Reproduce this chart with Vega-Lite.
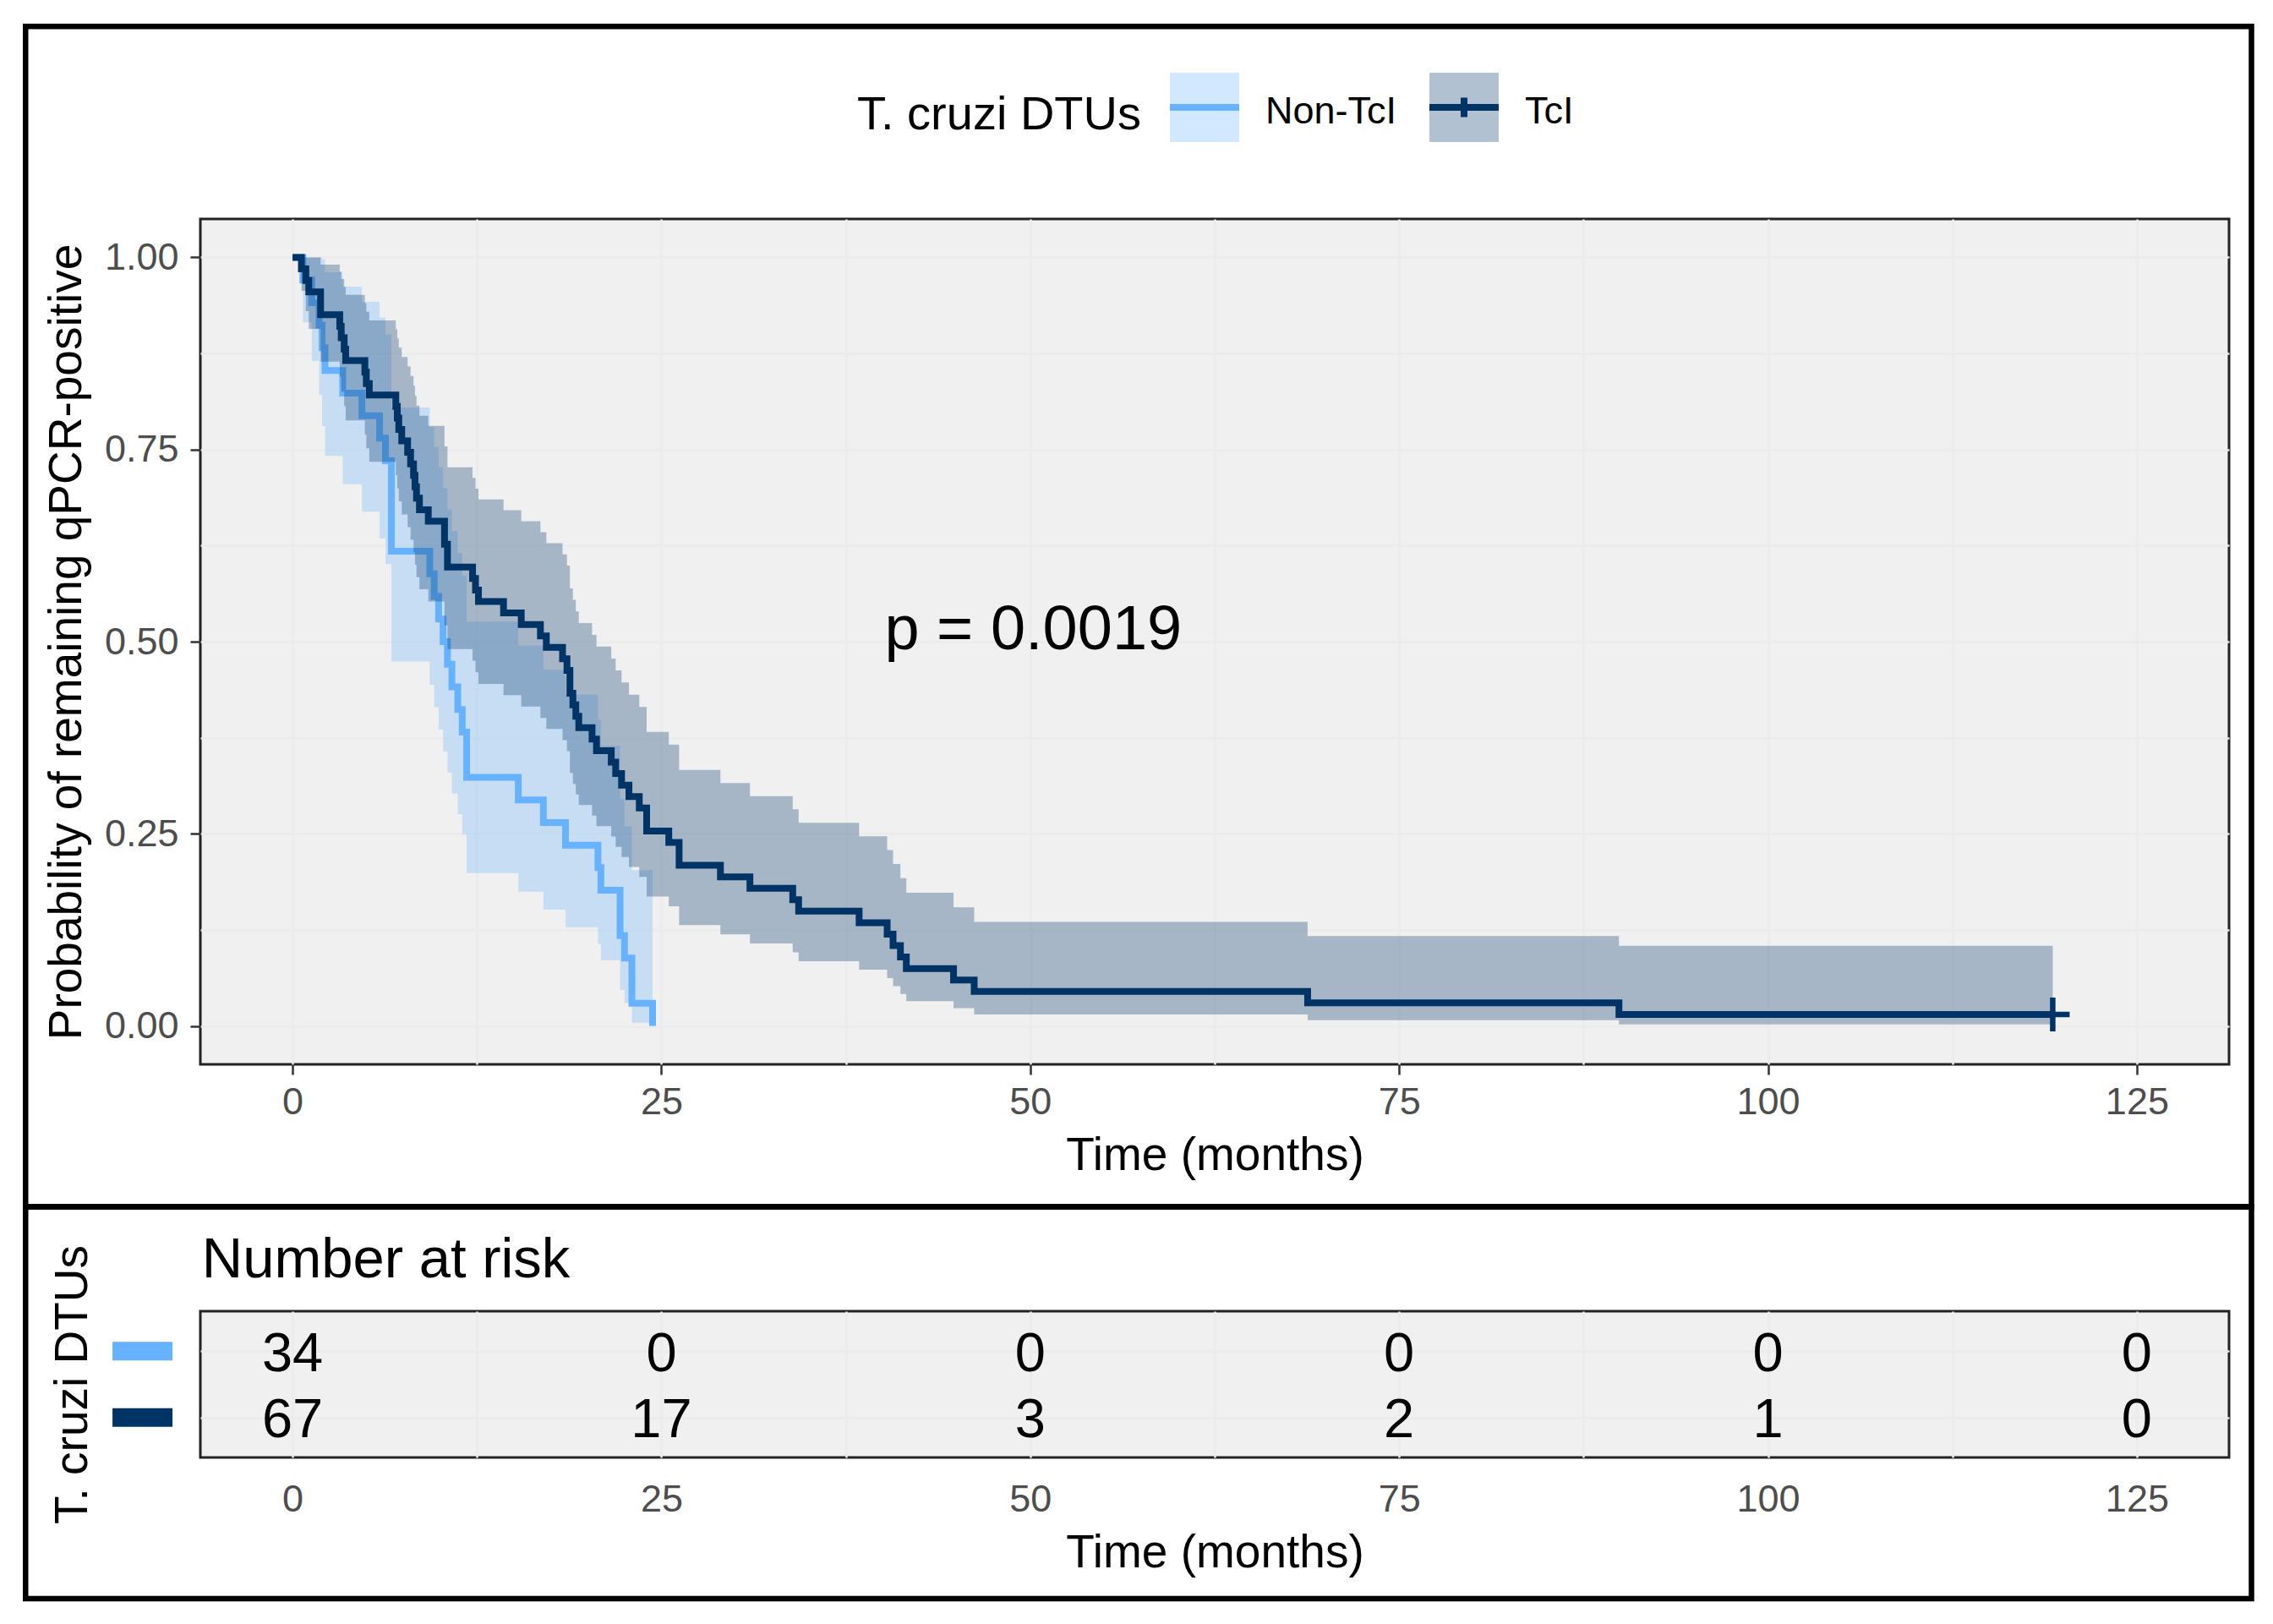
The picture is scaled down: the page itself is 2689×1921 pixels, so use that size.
{
  "$schema": "https://vega.github.io/schema/vega-lite/v6.json",
  "padding": {"left": 25, "top": 26, "right": 20, "bottom": 20},
  "background": "white",
  "spacing": -11,
  "resolve": {"scale": {"color": "independent"}},
  "config": {
    "font": "Liberation Sans",
    "view": {"fill": "#F0F0F0", "stroke": "#222222", "strokeWidth": 3},
    "axis": {
      "domain": false,
      "gridColor": "#EBEBEB",
      "gridWidth": 2.5,
      "gridOpacity": 1,
      "tickColor": "#333333",
      "tickWidth": 2.5,
      "tickSize": 12,
      "labelColor": "#4D4D4D",
      "labelFontSize": 45,
      "labelFont": "Liberation Sans",
      "titleColor": "#000000",
      "titleFontSize": 55,
      "titleFontWeight": "normal",
      "titleFont": "Liberation Sans",
      "labelOverlap": false,
      "labelFlush": false
    },
    "legend": {"labelFont": "Liberation Sans", "titleFont": "Liberation Sans"}
  },
  "datasets": {
    "km": [
      {"group":"Non-TcI","time":0,"surv":1,"lower":1,"upper":1},
      {"group":"Non-TcI","time":0.7,"surv":0.9706,"lower":0.9154,"upper":1},
      {"group":"Non-TcI","time":1.3,"surv":0.9412,"lower":0.8653,"upper":1},
      {"group":"Non-TcI","time":1.8,"surv":0.9118,"lower":0.8213,"upper":1},
      {"group":"Non-TcI","time":2.0,"surv":0.8824,"lower":0.7805,"upper":0.9976},
      {"group":"Non-TcI","time":2.2,"surv":0.8529,"lower":0.7418,"upper":0.9807},
      {"group":"Non-TcI","time":3.4,"surv":0.8235,"lower":0.7049,"upper":0.9621},
      {"group":"Non-TcI","time":4.7,"surv":0.7941,"lower":0.6692,"upper":0.9423},
      {"group":"Non-TcI","time":5.9,"surv":0.7647,"lower":0.6346,"upper":0.9215},
      {"group":"Non-TcI","time":6.3,"surv":0.7353,"lower":0.601,"upper":0.8996},
      {"group":"Non-TcI","time":6.7,"surv":0.6176,"lower":0.4741,"upper":0.8046},
      {"group":"Non-TcI","time":9.3,"surv":0.5882,"lower":0.444,"upper":0.7792},
      {"group":"Non-TcI","time":9.6,"surv":0.5588,"lower":0.4145,"upper":0.7533},
      {"group":"Non-TcI","time":9.9,"surv":0.5294,"lower":0.3856,"upper":0.7268},
      {"group":"Non-TcI","time":10.2,"surv":0.5,"lower":0.3573,"upper":0.6998},
      {"group":"Non-TcI","time":10.5,"surv":0.4706,"lower":0.3295,"upper":0.6721},
      {"group":"Non-TcI","time":10.8,"surv":0.4412,"lower":0.3022,"upper":0.6441},
      {"group":"Non-TcI","time":11.2,"surv":0.4118,"lower":0.2756,"upper":0.6154},
      {"group":"Non-TcI","time":11.5,"surv":0.3824,"lower":0.2494,"upper":0.5862},
      {"group":"Non-TcI","time":11.8,"surv":0.3235,"lower":0.199,"upper":0.526},
      {"group":"Non-TcI","time":15.3,"surv":0.2941,"lower":0.1747,"upper":0.4951},
      {"group":"Non-TcI","time":17.0,"surv":0.2647,"lower":0.1512,"upper":0.4635},
      {"group":"Non-TcI","time":18.5,"surv":0.2353,"lower":0.1284,"upper":0.4313},
      {"group":"Non-TcI","time":20.7,"surv":0.2059,"lower":0.1064,"upper":0.3984},
      {"group":"Non-TcI","time":20.9,"surv":0.1765,"lower":0.0854,"upper":0.3648},
      {"group":"Non-TcI","time":22.2,"surv":0.1176,"lower":0.0468,"upper":0.2953},
      {"group":"Non-TcI","time":22.5,"surv":0.0882,"lower":0.0299,"upper":0.2599},
      {"group":"Non-TcI","time":23.0,"surv":0.0294,"lower":0.0043,"upper":0.2028},
      {"group":"Non-TcI","time":24.4,"surv":0,"lower":0.0043,"upper":0.2028},
      {"group":"TcI","time":0,"surv":1,"lower":1,"upper":1},
      {"group":"TcI","time":0.6,"surv":0.9851,"lower":0.9564,"upper":1},
      {"group":"TcI","time":0.9,"surv":0.9701,"lower":0.9302,"upper":1},
      {"group":"TcI","time":1.1,"surv":0.9552,"lower":0.907,"upper":1},
      {"group":"TcI","time":1.9,"surv":0.9254,"lower":0.8645,"upper":0.9905},
      {"group":"TcI","time":3.2,"surv":0.9104,"lower":0.8446,"upper":0.9815},
      {"group":"TcI","time":3.3,"surv":0.8955,"lower":0.8252,"upper":0.9719},
      {"group":"TcI","time":3.5,"surv":0.8806,"lower":0.8063,"upper":0.9618},
      {"group":"TcI","time":3.6,"surv":0.8657,"lower":0.7878,"upper":0.9513},
      {"group":"TcI","time":4.9,"surv":0.8507,"lower":0.7696,"upper":0.9405},
      {"group":"TcI","time":5.0,"surv":0.8358,"lower":0.7517,"upper":0.9294},
      {"group":"TcI","time":5.2,"surv":0.8209,"lower":0.734,"upper":0.9181},
      {"group":"TcI","time":7.0,"surv":0.806,"lower":0.7166,"upper":0.9065},
      {"group":"TcI","time":7.1,"surv":0.791,"lower":0.6994,"upper":0.8947},
      {"group":"TcI","time":7.2,"surv":0.7761,"lower":0.6825,"upper":0.8826},
      {"group":"TcI","time":7.4,"surv":0.7612,"lower":0.6656,"upper":0.8705},
      {"group":"TcI","time":7.8,"surv":0.7463,"lower":0.649,"upper":0.8581},
      {"group":"TcI","time":8.0,"surv":0.7313,"lower":0.6325,"upper":0.8456},
      {"group":"TcI","time":8.2,"surv":0.7164,"lower":0.6162,"upper":0.8329},
      {"group":"TcI","time":8.3,"surv":0.7015,"lower":0.6,"upper":0.8201},
      {"group":"TcI","time":8.4,"surv":0.6866,"lower":0.584,"upper":0.8072},
      {"group":"TcI","time":8.6,"surv":0.6716,"lower":0.5681,"upper":0.7941},
      {"group":"TcI","time":9.2,"surv":0.6567,"lower":0.5523,"upper":0.7809},
      {"group":"TcI","time":10.3,"surv":0.6269,"lower":0.5211,"upper":0.7541},
      {"group":"TcI","time":10.5,"surv":0.597,"lower":0.4904,"upper":0.7268},
      {"group":"TcI","time":12.2,"surv":0.5821,"lower":0.4752,"upper":0.713},
      {"group":"TcI","time":12.4,"surv":0.5672,"lower":0.4601,"upper":0.6991},
      {"group":"TcI","time":12.6,"surv":0.5522,"lower":0.4451,"upper":0.6851},
      {"group":"TcI","time":14.3,"surv":0.5373,"lower":0.4303,"upper":0.671},
      {"group":"TcI","time":15.5,"surv":0.5224,"lower":0.4155,"upper":0.6568},
      {"group":"TcI","time":16.8,"surv":0.5075,"lower":0.4008,"upper":0.6425},
      {"group":"TcI","time":17.2,"surv":0.4925,"lower":0.3863,"upper":0.6281},
      {"group":"TcI","time":18.3,"surv":0.4776,"lower":0.3718,"upper":0.6135},
      {"group":"TcI","time":18.6,"surv":0.4627,"lower":0.3575,"upper":0.5989},
      {"group":"TcI","time":18.8,"surv":0.4328,"lower":0.3291,"upper":0.5694},
      {"group":"TcI","time":19.0,"surv":0.4179,"lower":0.315,"upper":0.5544},
      {"group":"TcI","time":19.2,"surv":0.403,"lower":0.3011,"upper":0.5394},
      {"group":"TcI","time":19.4,"surv":0.3881,"lower":0.2873,"upper":0.5242},
      {"group":"TcI","time":20.3,"surv":0.3731,"lower":0.2736,"upper":0.5089},
      {"group":"TcI","time":20.6,"surv":0.3582,"lower":0.26,"upper":0.4936},
      {"group":"TcI","time":21.6,"surv":0.3433,"lower":0.2465,"upper":0.4781},
      {"group":"TcI","time":21.9,"surv":0.3284,"lower":0.2331,"upper":0.4625},
      {"group":"TcI","time":22.3,"surv":0.3134,"lower":0.2199,"upper":0.4468},
      {"group":"TcI","time":22.8,"surv":0.2985,"lower":0.2068,"upper":0.4309},
      {"group":"TcI","time":23.5,"surv":0.2836,"lower":0.1938,"upper":0.4149},
      {"group":"TcI","time":24.0,"surv":0.2537,"lower":0.1683,"upper":0.3826},
      {"group":"TcI","time":25.5,"surv":0.2388,"lower":0.1557,"upper":0.3662},
      {"group":"TcI","time":26.2,"surv":0.209,"lower":0.1311,"upper":0.333},
      {"group":"TcI","time":29.0,"surv":0.194,"lower":0.1191,"upper":0.3161},
      {"group":"TcI","time":31.0,"surv":0.1791,"lower":0.1073,"upper":0.2991},
      {"group":"TcI","time":33.9,"surv":0.1642,"lower":0.0957,"upper":0.2818},
      {"group":"TcI","time":34.3,"surv":0.1493,"lower":0.0843,"upper":0.2644},
      {"group":"TcI","time":38.4,"surv":0.1343,"lower":0.0731,"upper":0.2467},
      {"group":"TcI","time":40.3,"surv":0.1194,"lower":0.0623,"upper":0.2288},
      {"group":"TcI","time":40.7,"surv":0.1045,"lower":0.0518,"upper":0.2106},
      {"group":"TcI","time":41.2,"surv":0.0896,"lower":0.0417,"upper":0.1922},
      {"group":"TcI","time":41.6,"surv":0.0746,"lower":0.0321,"upper":0.1734},
      {"group":"TcI","time":44.8,"surv":0.0597,"lower":0.0231,"upper":0.1544},
      {"group":"TcI","time":46.2,"surv":0.0448,"lower":0.0148,"upper":0.1353},
      {"group":"TcI","time":68.8,"surv":0.0299,"lower":0.0076,"upper":0.1169},
      {"group":"TcI","time":89.9,"surv":0.0149,"lower":0.0021,"upper":0.1044},
      {"group":"TcI","time":119.3,"surv":0.0149,"lower":0.0021,"upper":0.1044}
    ],
    "censor": [
      {"group":"TcI","time":119.3,"surv":0.0149}
    ],
    "risk": [
      {"group":"Non-TcI","time":0,"n":34},
      {"group":"Non-TcI","time":25,"n":0},
      {"group":"Non-TcI","time":50,"n":0},
      {"group":"Non-TcI","time":75,"n":0},
      {"group":"Non-TcI","time":100,"n":0},
      {"group":"Non-TcI","time":125,"n":0},
      {"group":"TcI","time":0,"n":67},
      {"group":"TcI","time":25,"n":17},
      {"group":"TcI","time":50,"n":3},
      {"group":"TcI","time":75,"n":2},
      {"group":"TcI","time":100,"n":1},
      {"group":"TcI","time":125,"n":0}
    ]
  },
  "vconcat": [
    {
      "width": 2400,
      "height": 1000,
      "layer": [
        {
          "data": {"values": [{}]},
          "mark": {"type": "rect", "fillOpacity": 0, "stroke": "#000000", "strokeWidth": 6.5},
          "encoding": {
            "x": {"datum": -18.095, "type": "quantitative", "scale": {"domain": [-6.25, 131.25], "nice": false, "zero": false},
              "axis": {"title": "Time (months)", "values": [0, 12.5, 25, 37.5, 50, 62.5, 75, 87.5, 100, 112.5, 125], "labelExpr": "datum.value % 25 === 0 ? datum.label : ''", "tickOpacity": {"condition": {"test": "datum.value % 25 !== 0", "value": 0}, "value": 1}, "grid": true, "labelPadding": 10, "titlePadding": 14}},
            "x2": {"datum": 132.77},
            "y": {"datum": 1.3005, "type": "quantitative", "scale": {"domain": [-0.05, 1.05], "nice": false, "zero": false},
              "axis": {"title": "Probability of remaining qPCR-positive", "values": [0, 0.125, 0.25, 0.375, 0.5, 0.625, 0.75, 0.875, 1], "labelExpr": "(datum.value * 4) % 1 === 0 ? format(datum.value, '.2f') : ''", "tickOpacity": {"condition": {"test": "(datum.value * 4) % 1 !== 0", "value": 0}, "value": 1}, "grid": true, "labelPadding": 14, "titlePadding": 16}},
            "y2": {"datum": -0.23535}
          }
        },
        {
          "data": {"name": "km"},
          "transform": [{"filter": "datum.group === 'Non-TcI'"}],
          "mark": {"type": "area", "interpolate": "step-after", "fillOpacity": 0.3},
          "encoding": {
            "x": {"field": "time", "type": "quantitative", "scale": {"domain": [-6.25, 131.25], "nice": false, "zero": false},
              "axis": {"title": "Time (months)", "values": [0, 12.5, 25, 37.5, 50, 62.5, 75, 87.5, 100, 112.5, 125], "labelExpr": "datum.value % 25 === 0 ? datum.label : ''", "tickOpacity": {"condition": {"test": "datum.value % 25 !== 0", "value": 0}, "value": 1}, "grid": true, "labelPadding": 10, "titlePadding": 14}},
            "y": {"field": "lower", "type": "quantitative", "scale": {"domain": [-0.05, 1.05], "nice": false, "zero": false},
              "axis": {"title": "Probability of remaining qPCR-positive", "values": [0, 0.125, 0.25, 0.375, 0.5, 0.625, 0.75, 0.875, 1], "labelExpr": "(datum.value * 4) % 1 === 0 ? format(datum.value, '.2f') : ''", "tickOpacity": {"condition": {"test": "(datum.value * 4) % 1 !== 0", "value": 0}, "value": 1}, "grid": true, "labelPadding": 14, "titlePadding": 16}},
            "y2": {"field": "upper"},
            "color": {
              "field": "group", "type": "nominal",
              "scale": {"domain": ["Non-TcI", "TcI"], "range": ["#66B2FF", "#003366"]},
              "legend": {
                "title": "T. cruzi DTUs",
                "orient": "none",
                "legendX": 777,
                "legendY": -177,
                "direction": "horizontal",
                "titleOrient": "left",
                "titleFontSize": 56,
                "titleFontWeight": "normal",
                "titleColor": "#000000",
                "titleBaseline": "middle",
                "titleAnchor": "middle",
                "titleLimit": 800,
                "titlePadding": 30,
                "labelFontSize": 45,
                "labelColor": "#000000",
                "labelLimit": 500,
                "labelOffset": 27,
                "columnPadding": 22,
                "symbolSize": 6724,
                "symbolStrokeWidth": 8,
                "encode": {
                  "symbols": {
                    "update": {
                      "shape": {"signal": "datum.value === 'TcI' ? 'M-1,0H1V1H-1V-1H1V0ZM0,-0.28V0.28' : 'M-1,0H1V1H-1V-1H1V0Z'"},
                      "fill": {"signal": "datum.value === 'TcI' ? '#003366' : '#66B2FF'"},
                      "fillOpacity": {"value": 0.3},
                      "stroke": {"signal": "datum.value === 'TcI' ? '#003366' : '#66B2FF'"},
                      "strokeWidth": {"value": 8},
                      "strokeDash": {"value": [82, 410]},
                      "opacity": {"value": 1}
                    }
                  },
                  "labels": {"update": {"dy": {"value": 5}}},
                  "title": {"update": {"dy": {"value": 3}}}
                }
              }
            }
          }
        },
        {
          "data": {"name": "km"},
          "transform": [{"filter": "datum.group === 'Non-TcI'"}],
          "mark": {"type": "line", "interpolate": "step-after", "strokeWidth": 8},
          "encoding": {
            "x": {"field": "time", "type": "quantitative", "scale": {"domain": [-6.25, 131.25], "nice": false, "zero": false},
              "axis": {"title": "Time (months)", "values": [0, 12.5, 25, 37.5, 50, 62.5, 75, 87.5, 100, 112.5, 125], "labelExpr": "datum.value % 25 === 0 ? datum.label : ''", "tickOpacity": {"condition": {"test": "datum.value % 25 !== 0", "value": 0}, "value": 1}, "grid": true, "labelPadding": 10, "titlePadding": 14}},
            "y": {"field": "surv", "type": "quantitative", "scale": {"domain": [-0.05, 1.05], "nice": false, "zero": false},
              "axis": {"title": "Probability of remaining qPCR-positive", "values": [0, 0.125, 0.25, 0.375, 0.5, 0.625, 0.75, 0.875, 1], "labelExpr": "(datum.value * 4) % 1 === 0 ? format(datum.value, '.2f') : ''", "tickOpacity": {"condition": {"test": "(datum.value * 4) % 1 !== 0", "value": 0}, "value": 1}, "grid": true, "labelPadding": 14, "titlePadding": 16}},
            "color": {"field": "group", "type": "nominal", "scale": {"domain": ["Non-TcI", "TcI"], "range": ["#66B2FF", "#003366"]}, "legend": null}
          }
        },
        {
          "data": {"name": "km"},
          "transform": [{"filter": "datum.group === 'TcI'"}],
          "mark": {"type": "area", "interpolate": "step-after", "fillOpacity": 0.3},
          "encoding": {
            "x": {"field": "time", "type": "quantitative", "scale": {"domain": [-6.25, 131.25], "nice": false, "zero": false},
              "axis": {"title": "Time (months)", "values": [0, 12.5, 25, 37.5, 50, 62.5, 75, 87.5, 100, 112.5, 125], "labelExpr": "datum.value % 25 === 0 ? datum.label : ''", "tickOpacity": {"condition": {"test": "datum.value % 25 !== 0", "value": 0}, "value": 1}, "grid": true, "labelPadding": 10, "titlePadding": 14}},
            "y": {"field": "lower", "type": "quantitative", "scale": {"domain": [-0.05, 1.05], "nice": false, "zero": false},
              "axis": {"title": "Probability of remaining qPCR-positive", "values": [0, 0.125, 0.25, 0.375, 0.5, 0.625, 0.75, 0.875, 1], "labelExpr": "(datum.value * 4) % 1 === 0 ? format(datum.value, '.2f') : ''", "tickOpacity": {"condition": {"test": "(datum.value * 4) % 1 !== 0", "value": 0}, "value": 1}, "grid": true, "labelPadding": 14, "titlePadding": 16}},
            "y2": {"field": "upper"},
            "color": {"field": "group", "type": "nominal", "scale": {"domain": ["Non-TcI", "TcI"], "range": ["#66B2FF", "#003366"]}, "legend": null}
          }
        },
        {
          "data": {"name": "km"},
          "transform": [{"filter": "datum.group === 'TcI'"}],
          "mark": {"type": "line", "interpolate": "step-after", "strokeWidth": 8},
          "encoding": {
            "x": {"field": "time", "type": "quantitative", "scale": {"domain": [-6.25, 131.25], "nice": false, "zero": false},
              "axis": {"title": "Time (months)", "values": [0, 12.5, 25, 37.5, 50, 62.5, 75, 87.5, 100, 112.5, 125], "labelExpr": "datum.value % 25 === 0 ? datum.label : ''", "tickOpacity": {"condition": {"test": "datum.value % 25 !== 0", "value": 0}, "value": 1}, "grid": true, "labelPadding": 10, "titlePadding": 14}},
            "y": {"field": "surv", "type": "quantitative", "scale": {"domain": [-0.05, 1.05], "nice": false, "zero": false},
              "axis": {"title": "Probability of remaining qPCR-positive", "values": [0, 0.125, 0.25, 0.375, 0.5, 0.625, 0.75, 0.875, 1], "labelExpr": "(datum.value * 4) % 1 === 0 ? format(datum.value, '.2f') : ''", "tickOpacity": {"condition": {"test": "(datum.value * 4) % 1 !== 0", "value": 0}, "value": 1}, "grid": true, "labelPadding": 14, "titlePadding": 16}},
            "color": {"field": "group", "type": "nominal", "scale": {"domain": ["Non-TcI", "TcI"], "range": ["#66B2FF", "#003366"]}, "legend": null}
          }
        },
        {
          "data": {"name": "censor"},
          "mark": {"type": "point", "shape": "M-1,0H1M0,-1V1", "filled": false, "size": 1600, "strokeWidth": 6.5, "color": "#003366", "opacity": 1},
          "encoding": {
            "x": {"field": "time", "type": "quantitative", "scale": {"domain": [-6.25, 131.25], "nice": false, "zero": false},
              "axis": {"title": "Time (months)", "values": [0, 12.5, 25, 37.5, 50, 62.5, 75, 87.5, 100, 112.5, 125], "labelExpr": "datum.value % 25 === 0 ? datum.label : ''", "tickOpacity": {"condition": {"test": "datum.value % 25 !== 0", "value": 0}, "value": 1}, "grid": true, "labelPadding": 10, "titlePadding": 14}},
            "y": {"field": "surv", "type": "quantitative", "scale": {"domain": [-0.05, 1.05], "nice": false, "zero": false},
              "axis": {"title": "Probability of remaining qPCR-positive", "values": [0, 0.125, 0.25, 0.375, 0.5, 0.625, 0.75, 0.875, 1], "labelExpr": "(datum.value * 4) % 1 === 0 ? format(datum.value, '.2f') : ''", "tickOpacity": {"condition": {"test": "(datum.value * 4) % 1 !== 0", "value": 0}, "value": 1}, "grid": true, "labelPadding": 14, "titlePadding": 16}}
          }
        },
        {
          "data": {"values": [{}]},
          "mark": {"type": "text", "text": "p = 0.0019", "fontSize": 74, "align": "center", "baseline": "alphabetic", "color": "#000000"},
          "encoding": {
            "x": {"datum": 50.2, "type": "quantitative", "scale": {"domain": [-6.25, 131.25], "nice": false, "zero": false},
              "axis": {"title": "Time (months)", "values": [0, 12.5, 25, 37.5, 50, 62.5, 75, 87.5, 100, 112.5, 125], "labelExpr": "datum.value % 25 === 0 ? datum.label : ''", "tickOpacity": {"condition": {"test": "datum.value % 25 !== 0", "value": 0}, "value": 1}, "grid": true, "labelPadding": 10, "titlePadding": 14}},
            "y": {"datum": 0.49, "type": "quantitative", "scale": {"domain": [-0.05, 1.05], "nice": false, "zero": false},
              "axis": {"title": "Probability of remaining qPCR-positive", "values": [0, 0.125, 0.25, 0.375, 0.5, 0.625, 0.75, 0.875, 1], "labelExpr": "(datum.value * 4) % 1 === 0 ? format(datum.value, '.2f') : ''", "tickOpacity": {"condition": {"test": "(datum.value * 4) % 1 !== 0", "value": 0}, "value": 1}, "grid": true, "labelPadding": 14, "titlePadding": 16}}
          }
        }
      ]
    },
    {
      "width": 2400,
      "height": 173,
      "resolve": {"scale": {"y": "independent"}, "axis": {"y": "independent"}},
      "layer": [
        {
          "data": {"values": [{}]},
          "mark": {"type": "rect", "fillOpacity": 0, "stroke": "#000000", "strokeWidth": 6.5},
          "encoding": {
            "x": {"datum": -18.095, "type": "quantitative", "scale": {"domain": [-6.25, 131.25], "nice": false, "zero": false},
              "axis": {"title": "Time (months)", "values": [0, 12.5, 25, 37.5, 50, 62.5, 75, 87.5, 100, 112.5, 125], "labelExpr": "datum.value % 25 === 0 ? datum.label : ''", "ticks": false, "grid": true, "labelPadding": 27, "titlePadding": 14}},
            "x2": {"datum": 132.77},
            "y": {"datum": 4.1705, "type": "quantitative", "scale": {"domain": [0.4, 2.6], "nice": false, "zero": false}, "axis": null},
            "y2": {"datum": -1.7237}
          }
        },
        {
          "data": {"values": [{}]},
          "mark": {"type": "text", "text": "Number at risk", "fontSize": 67, "align": "left", "baseline": "alphabetic", "color": "#000000"},
          "encoding": {
            "x": {"datum": -6.15, "type": "quantitative", "scale": {"domain": [-6.25, 131.25], "nice": false, "zero": false},
              "axis": {"title": "Time (months)", "values": [0, 12.5, 25, 37.5, 50, 62.5, 75, 87.5, 100, 112.5, 125], "labelExpr": "datum.value % 25 === 0 ? datum.label : ''", "ticks": false, "grid": true, "labelPadding": 27, "titlePadding": 14}},
            "y": {"datum": 3.1087, "type": "quantitative", "scale": {"domain": [0.4, 2.6], "nice": false, "zero": false}, "axis": null}
          }
        },
        {
          "data": {"name": "risk"},
          "mark": {"type": "text", "fontSize": 65, "color": "#000000", "baseline": "middle", "align": "center", "dy": 3.5},
          "encoding": {
            "x": {"field": "time", "type": "quantitative", "scale": {"domain": [-6.25, 131.25], "nice": false, "zero": false},
              "axis": {"title": "Time (months)", "values": [0, 12.5, 25, 37.5, 50, 62.5, 75, 87.5, 100, 112.5, 125], "labelExpr": "datum.value % 25 === 0 ? datum.label : ''", "ticks": false, "grid": true, "labelPadding": 27, "titlePadding": 14}},
            "y": {
              "field": "group", "type": "nominal",
              "scale": {"type": "point", "padding": 0.6, "domain": ["Non-TcI", "TcI"]},
              "axis": {"orient": "left", "labels": false, "ticks": false, "grid": true, "title": "T. cruzi DTUs", "titlePadding": 123}
            },
            "text": {"field": "n", "type": "quantitative"}
          }
        },
        {
          "data": {"name": "risk"},
          "transform": [{"filter": "datum.time === 0"}],
          "mark": {"type": "point", "shape": "M-1,-0.31H1V0.31H-1Z", "filled": true, "size": 5041, "opacity": 1, "strokeWidth": 0},
          "encoding": {
            "x": {"datum": -10.17, "type": "quantitative", "scale": {"domain": [-6.25, 131.25], "nice": false, "zero": false},
              "axis": {"title": "Time (months)", "values": [0, 12.5, 25, 37.5, 50, 62.5, 75, 87.5, 100, 112.5, 125], "labelExpr": "datum.value % 25 === 0 ? datum.label : ''", "ticks": false, "grid": true, "labelPadding": 27, "titlePadding": 14}},
            "y": {"field": "group", "type": "nominal", "scale": {"type": "point", "padding": 0.6, "domain": ["Non-TcI", "TcI"]}, "axis": null},
            "fill": {"field": "group", "type": "nominal", "scale": {"domain": ["Non-TcI", "TcI"], "range": ["#66B2FF", "#003366"]}, "legend": null}
          }
        }
      ]
    }
  ]
}
